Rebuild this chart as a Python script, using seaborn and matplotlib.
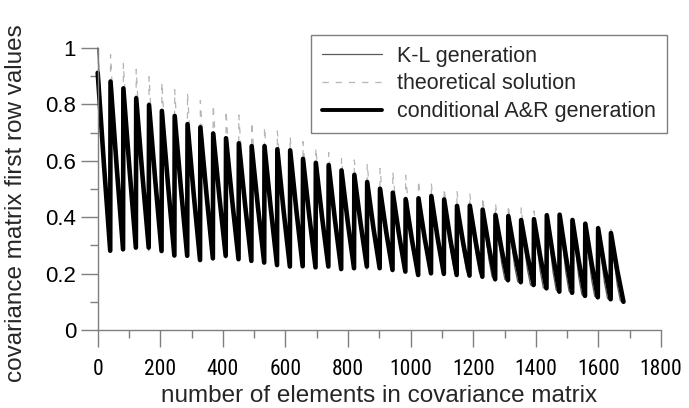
import numpy as np
import pandas as pd
import matplotlib
matplotlib.use("Agg")
import matplotlib.pyplot as plt
import seaborn as sns
from matplotlib import font_manager as fm
from matplotlib.ticker import MultipleLocator, FuncFormatter

# ---- data ----
GRID_N = 41                    # 41 x 41 grid -> 1681 elements, one "tooth" per grid row
SAMPLE_COLS = [0, 20, 40]      # column positions sampled inside each row
KL_SAMPLE_COLS = [0, 20, 30, 40]

AR_PEAK = [0.912, 0.881, 0.857, 0.822, 0.798, 0.777, 0.759, 0.730, 0.719, 0.697,
           0.680, 0.662, 0.652, 0.652, 0.641, 0.637, 0.607, 0.593, 0.585, 0.566,
           0.550, 0.525, 0.501, 0.487, 0.464, 0.467, 0.475, 0.463, 0.440, 0.441,
           0.427, 0.408, 0.404, 0.390, 0.393, 0.407, 0.409, 0.390, 0.377, 0.361, 0.344]
AR_MID = [0.586, 0.574, 0.565, 0.547, 0.529, 0.511, 0.501, 0.479, 0.477, 0.470,
          0.456, 0.444, 0.436, 0.431, 0.423, 0.422, 0.405, 0.399, 0.391, 0.383,
          0.378, 0.362, 0.347, 0.337, 0.320, 0.324, 0.327, 0.319, 0.307, 0.305,
          0.294, 0.283, 0.277, 0.265, 0.261, 0.262, 0.261, 0.246, 0.237, 0.225, 0.212]
AR_TROUGH = [0.281, 0.286, 0.292, 0.292, 0.280, 0.264, 0.263, 0.248, 0.254, 0.263,
             0.251, 0.245, 0.239, 0.230, 0.225, 0.226, 0.222, 0.225, 0.216, 0.219,
             0.225, 0.219, 0.213, 0.207, 0.195, 0.201, 0.199, 0.195, 0.193, 0.189,
             0.180, 0.177, 0.170, 0.160, 0.148, 0.136, 0.132, 0.121, 0.116, 0.109, 0.100]

KL_PEAK = [1.000, 0.880, 0.855, 0.820, 0.795, 0.775, 0.755, 0.730, 0.715, 0.695,
           0.678, 0.660, 0.650, 0.648, 0.640, 0.633, 0.605, 0.590, 0.582, 0.563,
           0.548, 0.523, 0.500, 0.485, 0.462, 0.465, 0.472, 0.460, 0.438, 0.438,
           0.425, 0.405, 0.400, 0.388, 0.390, 0.403, 0.405, 0.386, 0.373, 0.357, 0.340]
KL_MID = [0.586, 0.574, 0.565, 0.547, 0.529, 0.511, 0.501, 0.479, 0.477, 0.470,
          0.456, 0.444, 0.436, 0.431, 0.423, 0.422, 0.405, 0.399, 0.391, 0.383,
          0.378, 0.362, 0.347, 0.337, 0.305, 0.305, 0.305, 0.292, 0.275, 0.268,
          0.250, 0.236, 0.228, 0.215, 0.208, 0.205, 0.203, 0.188, 0.180, 0.170, 0.160]
KL_J30 = [0.430, 0.426, 0.425, 0.416, 0.401, 0.384, 0.378, 0.360, 0.362, 0.363,
          0.350, 0.341, 0.334, 0.327, 0.320, 0.320, 0.310, 0.308, 0.300, 0.297,
          0.296, 0.286, 0.274, 0.265, 0.240, 0.242, 0.240, 0.228, 0.213, 0.206,
          0.190, 0.180, 0.172, 0.160, 0.150, 0.142, 0.138, 0.126, 0.120, 0.112, 0.104]
KL_TROUGH = [0.280, 0.285, 0.290, 0.290, 0.278, 0.262, 0.260, 0.246, 0.252, 0.260,
             0.249, 0.243, 0.237, 0.228, 0.223, 0.224, 0.220, 0.222, 0.214, 0.216,
             0.222, 0.216, 0.210, 0.204, 0.192, 0.197, 0.195, 0.190, 0.187, 0.183,
             0.174, 0.170, 0.163, 0.153, 0.142, 0.131, 0.127, 0.116, 0.111, 0.105, 0.097]

TH_PEAK = [1.000, 0.977, 0.945, 0.924, 0.898, 0.878, 0.852, 0.840, 0.814, 0.798,
           0.778, 0.762, 0.737, 0.719, 0.706, 0.686, 0.668, 0.645, 0.629, 0.608,
           0.603, 0.590, 0.573, 0.561, 0.549, 0.530, 0.521, 0.503, 0.493, 0.484,
           0.471, 0.450, 0.443, 0.433, 0.422, 0.414, 0.408, 0.394, 0.384, 0.375, 0.357]
TH_MID = [0.566, 0.554, 0.545, 0.527, 0.509, 0.491, 0.481, 0.460, 0.457, 0.450,
          0.436, 0.424, 0.416, 0.411, 0.403, 0.402, 0.386, 0.380, 0.372, 0.364,
          0.359, 0.344, 0.330, 0.320, 0.303, 0.306, 0.309, 0.301, 0.290, 0.288,
          0.278, 0.268, 0.262, 0.251, 0.247, 0.248, 0.247, 0.233, 0.224, 0.213, 0.201]
TH_TROUGH = [0.280, 0.281, 0.281, 0.280, 0.276, 0.270, 0.265, 0.260, 0.256, 0.252,
             0.248, 0.244, 0.240, 0.236, 0.232, 0.229, 0.226, 0.223, 0.220, 0.217,
             0.214, 0.210, 0.206, 0.202, 0.198, 0.195, 0.192, 0.189, 0.186, 0.182,
             0.177, 0.172, 0.165, 0.157, 0.148, 0.139, 0.131, 0.123, 0.115, 0.108, 0.100]

LABEL_KL = "K-L generation"
LABEL_TH = "theoretical solution"
LABEL_AR = "conditional A&R generation"


def build(name, cols, *series):
    rows = []
    for i, vals in enumerate(zip(*series)):
        for j, v in zip(cols, vals):
            rows.append({"series": name, "element": i * GRID_N + j, "value": v})
    return pd.DataFrame(rows)


df_kl = build(LABEL_KL, KL_SAMPLE_COLS, KL_PEAK, KL_MID, KL_J30, KL_TROUGH)
df_th = build(LABEL_TH, SAMPLE_COLS, TH_PEAK, TH_MID, TH_TROUGH)
df_ar = build(LABEL_AR, SAMPLE_COLS, AR_PEAK, AR_MID, AR_TROUGH)

# ---- style ----
sns.set_theme(style="ticks")
names = {f.name for f in fm.fontManager.ttflist}
base_font = "Liberation Sans" if "Liberation Sans" in names else "DejaVu Sans"
narrow_font = base_font
for cand in ["Liberation Sans Narrow", "Arial Narrow", "Roboto Condensed",
             "Open Sans Condensed", "Noto Sans Condensed", "DejaVu Sans Condensed"]:
    if cand in names:
        narrow_font = cand
        break
plt.rcParams["font.family"] = [base_font, "DejaVu Sans"]
plt.rcParams["lines.scale_dashes"] = False

fig = plt.figure(figsize=(6.89, 4.08), dpi=100)
ax = fig.add_axes([0.1418, 0.1912, 0.8176, 0.6912])

GRAY_AX = "#7f7f7f"

sns.lineplot(data=df_th, x="element", y="value", ax=ax, sort=False, estimator=None,
             color="#b5b5b5", linewidth=0.9, label=LABEL_TH)
ax.lines[-1].set_dashes((4.5, 5.0))
sns.lineplot(data=df_kl, x="element", y="value", ax=ax, sort=False, estimator=None,
             color="#5a5a5a", linewidth=0.9, label=LABEL_KL)
sns.lineplot(data=df_ar, x="element", y="value", ax=ax, sort=False, estimator=None,
             color="black", linewidth=3.3, label=LABEL_AR)
for ln in ax.lines:
    ln.set_clip_on(False)

ax.set_xlim(0, 1800)
ax.set_ylim(0, 1)
ax.xaxis.set_major_locator(MultipleLocator(200))
ax.xaxis.set_minor_locator(MultipleLocator(100))
ax.yaxis.set_major_locator(MultipleLocator(0.2))
ax.yaxis.set_minor_locator(MultipleLocator(0.1))
ax.yaxis.set_major_formatter(FuncFormatter(lambda v, p: f"{v:g}"))

for s in ["top", "right"]:
    ax.spines[s].set_visible(False)
for s in ["left", "bottom"]:
    ax.spines[s].set_color(GRAY_AX)
    ax.spines[s].set_linewidth(1.0)

ax.tick_params(axis="both", which="both", bottom=True, left=True, top=False, right=False)
ax.tick_params(axis="both", which="major", direction="out", length=12.5, width=1.0,
               color=GRAY_AX, labelcolor="black")
ax.tick_params(axis="both", which="minor", direction="out", length=6, width=1.0,
               color=GRAY_AX)
ax.tick_params(axis="y", which="major", labelsize=16, pad=3)
ax.tick_params(axis="x", which="major", labelsize=15.5, pad=8.5)
for lab in ax.get_xticklabels():
    lab.set_fontfamily([narrow_font, "DejaVu Sans"])

ax.set_xlabel("number of elements in covariance matrix", fontsize=17.5, labelpad=3.5)
ax.set_ylabel("covariance matrix first row values", fontsize=17.5, labelpad=4)
ax.yaxis.set_label_coords(-0.125, 0.45)

handles, labels = ax.get_legend_handles_labels()
order = [labels.index(LABEL_KL), labels.index(LABEL_TH), labels.index(LABEL_AR)]
leg = ax.legend([handles[k] for k in order], [labels[k] for k in order],
                loc="upper right", bbox_to_anchor=(667 / 689, 1 - 35 / 408),
                bbox_transform=fig.transFigure, frameon=True, fancybox=False,
                edgecolor=GRAY_AX, framealpha=1, fontsize=15.5, handlelength=2.8,
                handletextpad=0.7, borderpad=0.5, labelspacing=0.31, borderaxespad=0)
leg.get_frame().set_linewidth(1.0)
leg.legend_handles[2].set_linewidth(2.8)

fig.savefig("out.png", dpi=100)
